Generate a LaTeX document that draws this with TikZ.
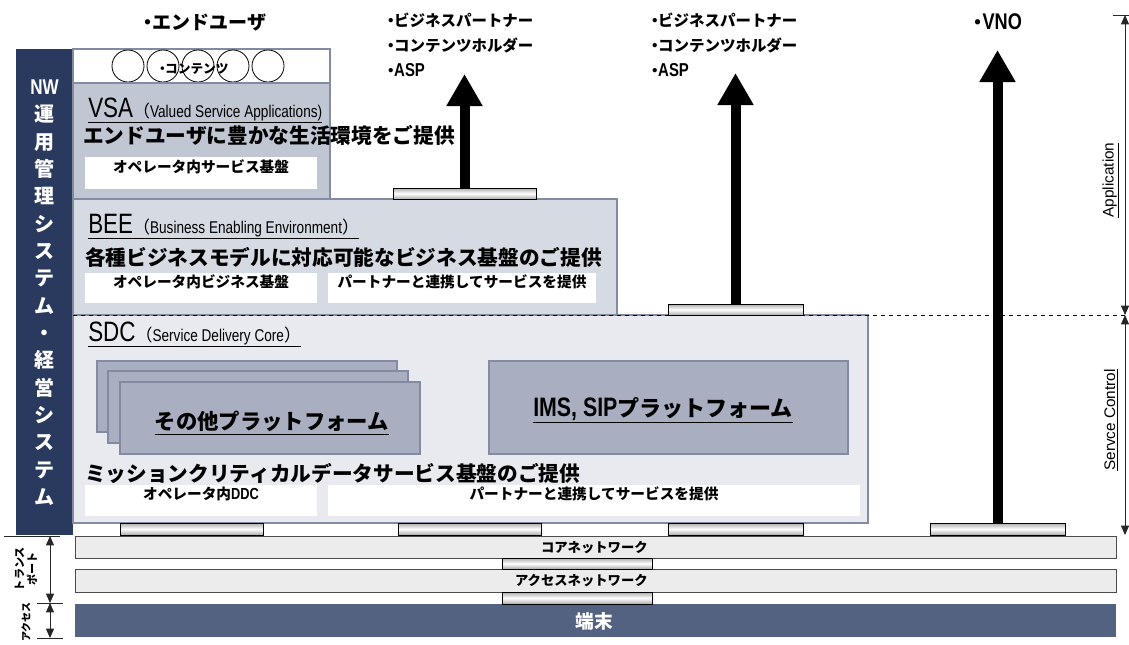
\documentclass[tikz,border=0pt]{standalone}
\usepackage{fontspec}
\setmainfont{Noto Sans CJK JP}
\newfontfamily\nar{Liberation Sans}[FakeStretch=0.8, BoldFont={Liberation Sans Bold}, BoldFeatures={FakeStretch=0.8}]
\newfontfamily\lib{Liberation Sans}
\usetikzlibrary{arrows.meta,fit}
\definecolor{navy}{RGB}{42,58,94}
\definecolor{vsac}{RGB}{193,198,211}
\definecolor{beec}{RGB}{214,218,227}
\definecolor{sdcc}{RGB}{232,234,239}
\definecolor{platc}{RGB}{169,175,192}
\definecolor{edgec}{RGB}{130,139,162}
\definecolor{termc}{RGB}{84,98,129}
\definecolor{netc}{RGB}{236,236,236}
\newcommand\fz[1]{\fontsize{#1}{#1}\selectfont}
\newcommand\dt{\makebox[0.45em][c]{・}}
\begin{document}
\begin{tikzpicture}[x=0.75pt,y=-0.75pt,
  every node/.style={inner sep=0pt},
  box/.style={draw=edgec, line width=0.8pt, inner sep=0pt},
  wbox/.style={fill=white, draw=none, inner sep=0pt, font=\fz{11pt}\bfseries},
  plat/.style={box, fill=platc},
  pad/.style={draw=black, line width=0.7pt, top color=gray!65, bottom color=gray!65, middle color=white, inner sep=0pt},
  bigarrow/.style={line width=7.5pt, -{Triangle[width=25.5pt,length=24pt]}},
  dimarrow/.style={line width=0.6pt, draw=black!85, {Triangle[width=6pt,length=7pt]}-{Triangle[width=6pt,length=7pt]}},
  tick/.style={line width=0.6pt, draw=black!85},
  hdr/.style={anchor=base west, inner sep=0pt},
  sub/.style={anchor=base west, inner sep=0pt, font=\fz{15.5pt}\bfseries},
  lab/.style={anchor=base west, inner sep=0pt, font=\fz{11.6pt}\bfseries},
  netbar/.style={fill=netc, draw=black!70, line width=0.7pt, inner sep=0pt}]
\useasboundingbox (0,0) rectangle (1129,644);
\clip (0,0) rectangle (1129,644);

% left management bar
\node[fill=navy, draw=none, fit={(16,49) (73,535)}] (nwbar) {};
\node[text=white, align=center, font=\fontsize{15pt}{20.5pt}\selectfont\bfseries] (nwtext) at (44.5,292.5)
  {{\nar\fontsize{16pt}{20.5pt}\selectfont NW}\\運\\用\\管\\理\\シ\\ス\\テ\\ム\\・\\経\\営\\シ\\ス\\テ\\ム};

% contents
\node[box, fill=white, fit={(73,49) (330,83)}] (cont) {};
\foreach \i/\cx in {1/128,2/163,3/198,4/233,5/268}
  \node[circle, draw=black, line width=0.6pt, minimum size=24pt, inner sep=0pt] (c\i) at (\cx,66) {};
\node[font=\fz{9.5pt}\bfseries] (conttext) at (194,69) {\dt コンテンツ};

% VSA
\node[box, fill=vsac, fit={(73,83) (330,199)}] (vsa) {};
\node[hdr] (vsah) at (88,117) {\underline{{\nar\fz{21pt}VSA}{\fz{12.75pt}（}{\nar\fz{12.75pt}Valued Service Applications)}}};
\node[sub] (vsas) at (83,143) {エンドユーザに豊かな生活環境をご提供};
\node[wbox, fit={(85,157) (317,189)}] (vsaw) {オペレータ内サービス基盤};

% BEE
\node[box, fill=beec, fit={(73,199) (617,315)}] (bee) {};
\node[hdr] (beeh) at (88,233) {\underline{{\nar\fz{21pt}BEE}{\fz{12.75pt}（}{\nar\fz{12.75pt}Business Enabling Environment}{\fz{12.75pt}）}}};
\node[sub] (bees) at (85,265) {各種ビジネスモデルに対応可能なビジネス基盤のご提供};
\node[wbox, fit={(85,273) (317,303)}] (beew1) {オペレータ内ビジネス基盤};
\node[wbox, fit={(328,273) (596,303)}] (beew2) {パートナーと連携してサービスを提供};

% SDC
\node[box, fill=sdcc, fit={(73,315) (868,523)}] (sdc) {};
\node[hdr] (sdch) at (88,341) {\underline{{\nar\fz{21pt}SDC}{\fz{12.75pt}（}{\nar\fz{12.75pt}Service Delivery Core}{\fz{12.75pt}）}}};
\node[plat, fit={(97,361) (397,432)}] (oth3) {};
\node[plat, fit={(108,371) (408,443)}] (oth2) {};
\node[plat, fit={(120,382) (420,454)}] (oth1) {};
\node[font=\fz{16pt}\bfseries] (othtext) at (272,423) {\underline{その他プラットフォーム}};
\node[plat, fit={(489,361) (848,454)}] (ims) {};
\node[font=\fz{16.5pt}\bfseries] (imstext) at (663,410) {\underline{{\nar\fz{20pt}IMS, SIP}プラットフォーム}};
\node[sub] (sdcs) at (85,481) {ミッションクリティカルデータサービス基盤のご提供};
\node[wbox, fit={(85,485) (317,516)}] (sdcw1) {オペレータ内{\nar\fz{12pt}DDC}};
\node[wbox, fit={(328,485) (860,516)}] (sdcw2) {パートナーと連携してサービスを提供};

% dashed border line
\coordinate (dl) at (73,315);
\coordinate (dr) at (1129,315);
\draw[dashed, line width=0.6pt] (dl) -- (dr);

% networks
\node[netbar, fit={(75,536) (1116,558)}] (core) {};
\node[anchor=east, font=\fz{10pt}\bfseries] (coretext) at (648,548) {コアネットワーク};
\node[netbar, fit={(75,569) (1116,592)}] (acc) {};
\node[anchor=east, font=\fz{10pt}\bfseries] (acctext) at (648,581) {アクセスネットワーク};
\node[fill=termc, draw=none, fit={(75,604) (1116,637)}] (term) {};
\node[text=white, font=\fz{14pt}\bfseries] (termtext) at (594,621) {端末};

% pads
\node[pad, fit={(393,188) (536,199)}] (pad1) {};
\node[pad, fit={(668,304) (803,315)}] (pad2) {};
\node[pad, fit={(120,523) (263,535)}] (padb1) {};
\node[pad, fit={(398,523) (541,535)}] (padb2) {};
\node[pad, fit={(668,523) (803,535)}] (padb3) {};
\node[pad, fit={(930,523) (1065,535)}] (padb4) {};
\node[pad, fit={(502,558) (652,569)}] (padm1) {};
\node[pad, fit={(502,592) (652,604)}] (padm2) {};

% top labels
\node[anchor=base, font=\fz{14.25pt}\bfseries] (enduser) at (205,29) {\dt エンドユーザ};
\node[lab] (p1a) at (387,26) {\dt ビジネスパートナー};
\node[lab] (p1b) at (387,51) {\dt コンテンツホルダー};
\node[lab] (p1c) at (387,76) {\dt{\nar\fz{14pt}ASP}};
\node[lab] (p2a) at (651,26) {\dt ビジネスパートナー};
\node[lab] (p2b) at (651,51) {\dt コンテンツホルダー};
\node[lab] (p2c) at (651,76) {\dt{\nar\fz{14pt}ASP}};
\node[anchor=base, font=\fz{14.25pt}\bfseries] (vno) at (998,29) {\dt{\nar\fz{17pt}VNO}};

% big arrows
\coordinate (t1) at (465,74);
\coordinate (t2) at (735,73);
\coordinate (t3) at (997,50);
\draw[bigarrow] (pad1.north) -- (pad1.north |- t1);
\draw[bigarrow] (pad2.north) -- (pad2.north |- t2);
\draw[bigarrow] (padb4.north) -- (padb4.north |- t3);

% right dimension
\coordinate (rt) at (1125,15);
\coordinate (rm) at (1125,315);
\coordinate (rb) at (1125,535);
\coordinate (rtl) at (1113,15);
\coordinate (rtr) at (1129,15);
\draw[tick] (rtl) -- (rtr);
\draw[dimarrow] (rt) -- (rm);
\draw[dimarrow] (rm) -- (rb);
\node[rotate=90, font=\lib\fz{11.5pt}] (applab) at (1111,180) {\underline{Application}};
\node[rotate=90, font=\lib\fz{11.5pt}] (svclab) at (1111,420) {\underline{Servce Control}};

% left dimension
\coordinate (lt) at (50,536);
\coordinate (lm) at (50,603);
\coordinate (lb) at (50,638);
\coordinate (lt1) at (4,536);
\coordinate (lt2) at (60,536);
\coordinate (lm1) at (37,603);
\coordinate (lm2) at (63,603);
\coordinate (lb1) at (37,638);
\coordinate (lb2) at (63,638);
\draw[tick] (lt1) -- (lt2);
\draw[tick] (lm1) -- (lm2);
\draw[tick] (lb1) -- (lb2);
\draw[dimarrow] (lt) -- (lm);
\draw[dimarrow] (lm) -- (lb);
\node[rotate=90, align=center, font=\fontsize{8.3pt}{9.5pt}\selectfont\bfseries] (trlab) at (26,569) {トランス\\ポート};
\node[rotate=90, font=\fz{7.5pt}\bfseries] (aclab) at (26,622) {アクセス};
\end{tikzpicture}
\end{document}
